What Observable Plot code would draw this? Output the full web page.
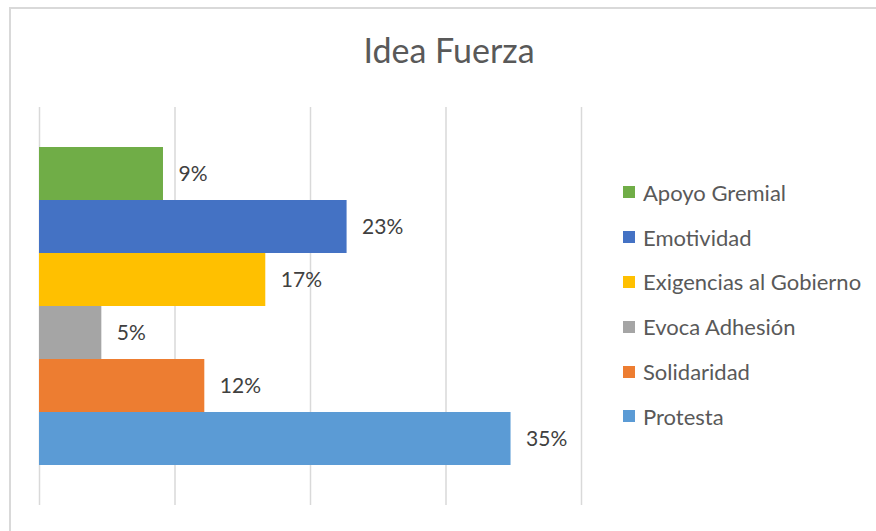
<!DOCTYPE html>
<html>
<head>
<meta charset="utf-8">
<script src="https://cdn.jsdelivr.net/npm/d3@7"></script>
<script src="https://cdn.jsdelivr.net/npm/@observablehq/plot@0.6"></script>
<style>
  html, body { margin: 0; padding: 0; background: #fff; }
  #chart { position: relative; width: 876px; height: 531px; overflow: hidden; font-family: Lato, "Open Sans", sans-serif; color: #595959; }
  #border { position: absolute; left: 9px; top: 7px; width: 900px; height: 600px; border: 2px solid #d9d9d9; box-sizing: border-box; }
  #title { position: absolute; left: 0; width: 898px; top: 30px; text-align: center; font-size: 34px; line-height: 40px; color: #595959; }
  #plot { position: absolute; left: 0; top: 0; }
  #legend { position: absolute; left: 623px; top: 170px; }
  .item { display: flex; align-items: center; height: 44.8px; font-size: 22px; color: #595959; margin-top: 0; }
  .item .sw { width: 12px; height: 12px; margin-right: 8px; flex: none; }
</style>
</head>
<body>
<div id="chart">
  <div id="border"></div>
  <div id="title">Idea Fuerza</div>
  <div id="plot"></div>
  <div id="legend"></div>
</div>
<script>
const categories = ["Apoyo Gremial", "Emotividad", "Exigencias al Gobierno", "Evoca Adhesión", "Solidaridad", "Protesta"];
const values = [9.15, 22.7, 16.7, 4.6, 12.2, 34.8];
const labels = ["9%", "23%", "17%", "5%", "12%", "35%"];
const colors = ["#70AD47", "#4472C4", "#FFC000", "#A5A5A5", "#ED7D31", "#5B9BD5"];
const gridTicks = [0, 10, 20, 30, 40];

const data = categories.map((c, i) => ({cat: c, value: values[i], label: labels[i], color: colors[i]}));

const plot = Plot.plot({
  width: 876,
  height: 531,
  marginTop: 107,
  marginBottom: 26,
  marginLeft: 39,
  marginRight: 295,
  style: {background: "transparent", fontFamily: "Lato, 'Open Sans', sans-serif", overflow: "visible"},
  x: {domain: [0, 40], axis: null},
  y: {domain: categories, range: [146, 465], padding: 0, axis: null},
  marks: [
    Plot.ruleX(gridTicks, {stroke: "#d9d9d9", strokeWidth: 1.5}),
    Plot.barX(data, {x: "value", y: "cat", fill: "color", insetTop: 0, insetBottom: 0}),
    Plot.text(data, {x: "value", y: "cat", text: "label", dx: 15, textAnchor: "start", fill: "#404040", fontSize: 21})
  ]
});
document.getElementById("plot").appendChild(plot);

const legend = document.getElementById("legend");
categories.forEach((c, i) => {
  const item = document.createElement("div");
  item.className = "item";
  const sw = document.createElement("span");
  sw.className = "sw";
  sw.style.background = colors[i];
  const t = document.createElement("span");
  t.textContent = c;
  item.appendChild(sw);
  item.appendChild(t);
  legend.appendChild(item);
});
</script>
</body>
</html>
